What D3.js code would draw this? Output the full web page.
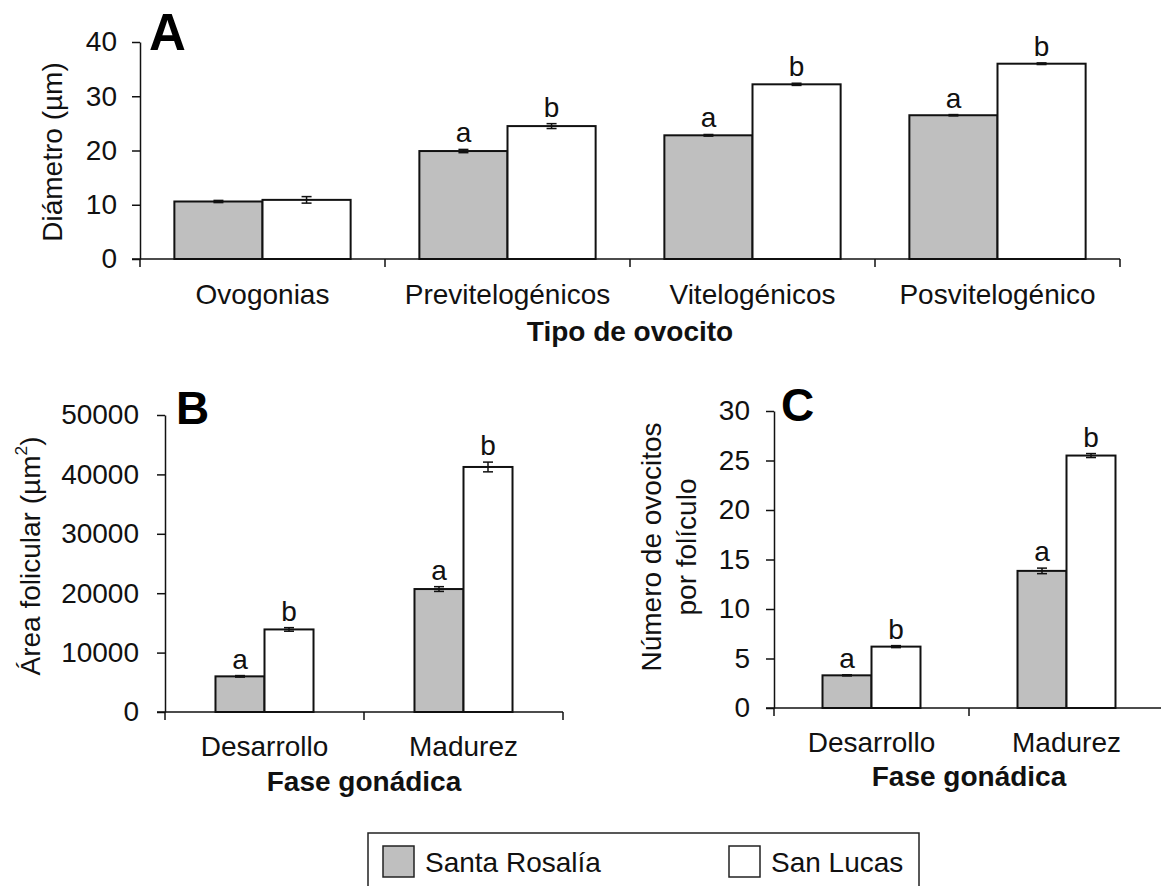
<!DOCTYPE html>
<html>
<head>
<meta charset="utf-8">
<script src="https://cdn.jsdelivr.net/npm/d3@7"></script>
<style>
  html, body { margin: 0; padding: 0; background: #fff; }
  svg { display: block; font-family: "Liberation Sans", Arial, sans-serif; }
</style>
</head>
<body>
<svg id="chart" width="1161" height="886"></svg>
<script>
// ---- Data ----
const series = ["Santa Rosalía", "San Lucas"];
const seriesFill = ["#bfbfbf", "#ffffff"];

// Panel A: oocyte diameter by oocyte type
const oocyteTypes = ["Ovogonias", "Previtelogénicos", "Vitelogénicos", "Posvitelogénico"];
const diamSR = [10.6, 19.9, 22.8, 26.5];
const diamSRErr = [0.2, 0.3, 0.15, 0.12];
const diamSL = [10.9, 24.5, 32.2, 36.0];
const diamSLErr = [0.6, 0.45, 0.2, 0.15];
const diamSRLetters = ["", "a", "a", "a"];
const diamSLLetters = ["", "b", "b", "b"];
const diamTicks = [0, 10, 20, 30, 40];

// Panel B: follicular area by gonadal phase
const phases = ["Desarrollo", "Madurez"];
const areaSR = [6000, 20700];
const areaSRErr = [130, 400];
const areaSL = [13900, 41250];
const areaSLErr = [300, 820];
const areaSRLetters = ["a", "a"];
const areaSLLetters = ["b", "b"];
const areaTicks = [0, 10000, 20000, 30000, 40000, 50000];

// Panel C: oocytes per follicle by gonadal phase
const countSR = [3.3, 13.85];
const countSRErr = [0.06, 0.28];
const countSL = [6.2, 25.5];
const countSLErr = [0.1, 0.2];
const countSRLetters = ["a", "a"];
const countSLLetters = ["b", "b"];
const countTicks = [0, 5, 10, 15, 20, 25, 30];

const svg = d3.select("#chart");
const ink = "#111";
const FONT = "Liberation Sans, Arial, sans-serif";

function drawPanel(cfg) {
  const g = svg.append("g");
  const x0 = d3.scaleBand().domain(cfg.categories).range([cfg.left, cfg.right]).padding(0);
  const x1 = d3.scaleBand().domain(series).range([0, x0.bandwidth()])
    .paddingInner(0).paddingOuter(cfg.outerPad);
  const y = d3.scaleLinear().domain([0, cfg.ticks[cfg.ticks.length - 1]]).range([cfg.bottom, cfg.top]);

  const rows = [];
  cfg.categories.forEach((c, i) => {
    rows.push({ c, s: series[0], v: cfg.sr[i], e: cfg.srErr[i], l: cfg.srLetters[i], fill: seriesFill[0] });
    rows.push({ c, s: series[1], v: cfg.sl[i], e: cfg.slErr[i], l: cfg.slLetters[i], fill: seriesFill[1] });
  });

  // bars
  g.selectAll("rect.bar").data(rows).join("rect")
    .attr("class", "bar")
    .attr("x", d => x0(d.c) + x1(d.s))
    .attr("y", d => y(d.v))
    .attr("width", x1.bandwidth())
    .attr("height", d => y(0) - y(d.v))
    .attr("fill", d => d.fill)
    .attr("stroke", ink)
    .attr("stroke-width", 2);

  // error bars
  const cap = 5;
  const eb = g.selectAll("g.err").data(rows).join("g").attr("class", "err")
    .attr("transform", d => `translate(${x0(d.c) + x1(d.s) + x1.bandwidth() / 2},0)`);
  eb.append("line").attr("x1", 0).attr("x2", 0)
    .attr("y1", d => y(d.v + d.e)).attr("y2", d => y(d.v - d.e))
    .attr("stroke", ink).attr("stroke-width", 1.5);
  eb.append("line").attr("x1", -cap).attr("x2", cap)
    .attr("y1", d => y(d.v + d.e)).attr("y2", d => y(d.v + d.e))
    .attr("stroke", ink).attr("stroke-width", 1.5);
  eb.append("line").attr("x1", -cap).attr("x2", cap)
    .attr("y1", d => y(d.v - d.e)).attr("y2", d => y(d.v - d.e))
    .attr("stroke", ink).attr("stroke-width", 1.5);

  // significance letters
  g.selectAll("text.sig").data(rows.filter(d => d.l)).join("text")
    .attr("class", "sig")
    .attr("x", d => x0(d.c) + x1(d.s) + x1.bandwidth() / 2)
    .attr("y", d => y(d.v + d.e) - 7)
    .attr("text-anchor", "middle")
    .attr("font-size", cfg.fs)
    .attr("fill", ink)
    .text(d => d.l);

  // y axis
  const yAxis = d3.axisLeft(y).tickValues(cfg.ticks).tickFormat(d3.format("d"))
    .tickSize(8).tickSizeOuter(0).tickPadding(cfg.tickPad);
  const ya = g.append("g").attr("transform", `translate(${cfg.left},0)`).call(yAxis);
  ya.attr("font-family", FONT).attr("font-size", cfg.fs);
  ya.select(".domain").attr("stroke", ink).attr("stroke-width", 1.5);
  ya.selectAll(".tick line").attr("stroke", ink).attr("stroke-width", 1.5);
  ya.selectAll(".tick text").attr("fill", ink);

  // x axis: baseline plus tick marks at category boundaries
  const bounds = cfg.categories.map(c => x0(c)).concat([x0.range()[1]]);
  g.append("line").attr("x1", cfg.left - 8).attr("x2", cfg.right)
    .attr("y1", y(0)).attr("y2", y(0)).attr("stroke", ink).attr("stroke-width", 1.5);
  g.selectAll("line.xt").data(bounds).join("line").attr("class", "xt")
    .attr("x1", d => d).attr("x2", d => d)
    .attr("y1", y(0)).attr("y2", y(0) + 8)
    .attr("stroke", ink).attr("stroke-width", 1.5);
  g.selectAll("text.cat").data(cfg.categories).join("text").attr("class", "cat")
    .attr("x", d => x0(d) + x0.bandwidth() / 2)
    .attr("y", y(0) + cfg.catOffset)
    .attr("text-anchor", "middle").attr("font-size", cfg.fs).attr("fill", ink)
    .text(d => d);

  // x title
  g.append("text")
    .attr("x", (cfg.left + cfg.right) / 2)
    .attr("y", y(0) + cfg.titleOffset)
    .attr("text-anchor", "middle").attr("font-size", cfg.fs).attr("font-weight", "bold")
    .attr("fill", ink).text(cfg.xTitle);

  // y title (one or more lines)
  const yt = g.append("text")
    .attr("transform", `translate(${cfg.yTitleX},${cfg.yTitleY}) rotate(-90)`)
    .attr("text-anchor", "middle").attr("font-size", cfg.fs).attr("fill", ink);
  cfg.yTitle.forEach((line, i) => {
    const t = yt.append("tspan").attr("x", 0).attr("dy", i === 0 ? "0.35em" : cfg.yTitleLineGap);
    if (Array.isArray(line)) {
      t.text(line[0]);
      yt.append("tspan").attr("font-size", cfg.fs * 0.62).attr("dy", "-0.75em").text(line[1]);
      yt.append("tspan").attr("dy", "0.47em").text(line[2]);
    } else {
      t.text(line);
    }
  });

  // panel letter
  g.append("text").attr("x", cfg.tagX).attr("y", cfg.tagY)
    .attr("font-size", cfg.tagSize).attr("font-weight", "bold").attr("fill", "#000")
    .text(cfg.tag);
}

drawPanel({
  categories: oocyteTypes, sr: diamSR, srErr: diamSRErr, sl: diamSL, slErr: diamSLErr,
  srLetters: diamSRLetters, slLetters: diamSLLetters, ticks: diamTicks,
  left: 140, right: 1120, top: 42, bottom: 259, outerPad: 0.39,
  fs: 28, tickPad: 15, catOffset: 45, titleOffset: 82,
  xTitle: "Tipo de ovocito", yTitle: ["Diámetro (µm)"], yTitleX: 52, yTitleY: 152, yTitleLineGap: "1.3em",
  tag: "A", tagX: 149, tagY: 50, tagSize: 51
});

drawPanel({
  categories: phases, sr: areaSR, srErr: areaSRErr, sl: areaSL, slErr: areaSLErr,
  srLetters: areaSRLetters, slLetters: areaSLLetters, ticks: areaTicks,
  left: 165, right: 563, top: 415, bottom: 712, outerPad: 1.03,
  fs: 28, tickPad: 18, catOffset: 44, titleOffset: 79,
  xTitle: "Fase gonádica", yTitle: [["Área folicular (µm", "2", ")"]], yTitleX: 30, yTitleY: 556, yTitleLineGap: "1.3em",
  tag: "B", tagX: 176, tagY: 424, tagSize: 46
});

drawPanel({
  categories: phases, sr: countSR, srErr: countSRErr, sl: countSL, slErr: countSLErr,
  srLetters: countSRLetters, slLetters: countSLLetters, ticks: countTicks,
  left: 774, right: 1164, top: 411, bottom: 708, outerPad: 0.99,
  fs: 28, tickPad: 16, catOffset: 44, titleOffset: 78,
  xTitle: "Fase gonádica", yTitle: ["Número de ovocitos", "por folículo"], yTitleX: 651, yTitleY: 547, yTitleLineGap: "1.25em",
  tag: "C", tagX: 781, tagY: 421, tagSize: 46
});

// legend
const legend = svg.append("g");
legend.append("rect").attr("x", 368).attr("y", 833).attr("width", 551).attr("height", 80)
  .attr("fill", "#fff").attr("stroke", "#222").attr("stroke-width", 1.5);
const legX = [383, 729];
series.forEach((s, i) => {
  legend.append("rect").attr("x", legX[i]).attr("y", 846).attr("width", 31).attr("height", 31)
    .attr("fill", seriesFill[i]).attr("stroke", "#222").attr("stroke-width", 1.5);
  legend.append("text").attr("x", legX[i] + 42).attr("y", 872)
    .attr("font-size", 28).attr("fill", ink).text(s);
});
</script>
</body>
</html>
